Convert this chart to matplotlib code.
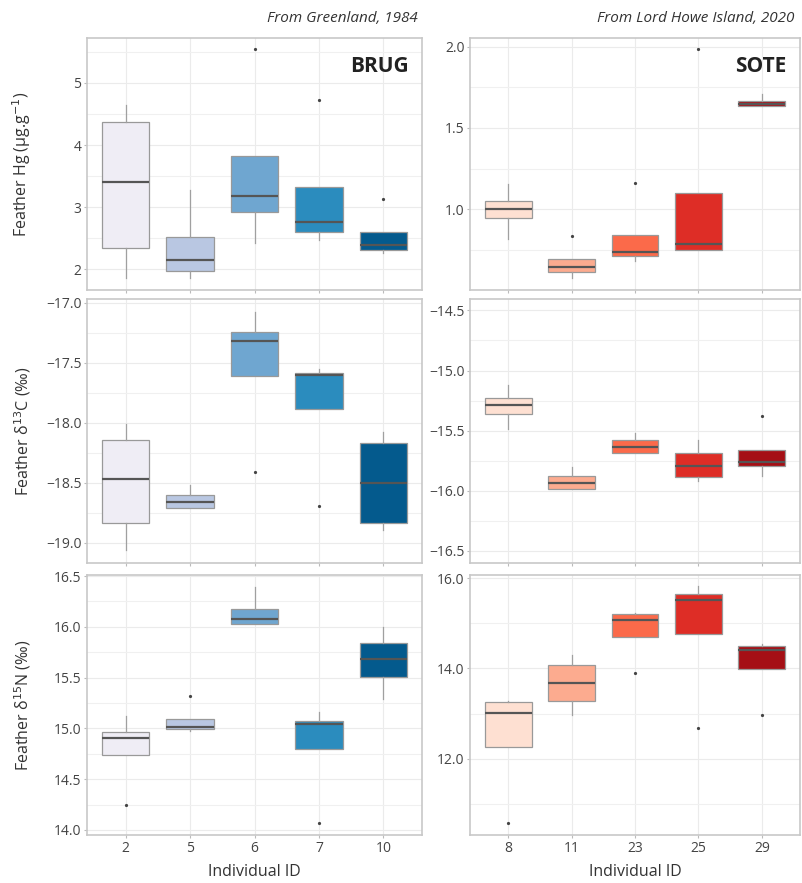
import matplotlib
matplotlib.use("Agg")
import matplotlib.pyplot as plt
from matplotlib.ticker import MultipleLocator

plt.rcParams['font.family'] = ['Open Sans', 'DejaVu Sans']

brug_ids = ["2", "5", "6", "7", "10"]
sote_ids = ["8", "11", "23", "25", "29"]

brug_colors = ["#efedf5", "#b9c7e2", "#6fa6d0", "#2b8cbe", "#045a8d"]
sote_colors = ["#fee0d2", "#fcab8f", "#fb6a4a", "#de2d26", "#a50f15"]

# box stats per individual: low whisker, q1, median, q3, high whisker, outliers
brug_hg_lo = [1.87, 1.87, 2.42, 2.48, 2.27]
brug_hg_q1 = [2.35, 1.97, 2.93, 2.60, 2.31]
brug_hg_med = [3.41, 2.16, 3.18, 2.77, 2.40]
brug_hg_q3 = [4.37, 2.52, 3.83, 3.32, 2.61]
brug_hg_hi = [4.65, 3.27, 3.83, 3.32, 2.61]
brug_hg_out = [[], [], [5.54], [4.72], [3.13]]

sote_hg_lo = [0.816, 0.58, 0.682, 0.752, 1.638]
sote_hg_q1 = [0.948, 0.617, 0.713, 0.752, 1.638]
sote_hg_med = [1.0, 0.644, 0.736, 0.785, 1.648]
sote_hg_q3 = [1.051, 0.695, 0.842, 1.102, 1.666]
sote_hg_hi = [1.156, 0.695, 0.842, 1.102, 1.71]
sote_hg_out = [[], [0.837], [1.162], [1.985], []]

brug_c_lo = [-19.064, -18.712, -17.609, -17.886, -18.898]
brug_c_q1 = [-18.837, -18.712, -17.609, -17.886, -18.834]
brug_c_med = [-18.474, -18.663, -17.324, -17.607, -18.501]
brug_c_q3 = [-18.144, -18.601, -17.244, -17.587, -18.169]
brug_c_hi = [-18.011, -18.518, -17.075, -17.557, -18.081]
brug_c_out = [[], [], [-18.413], [-18.696], []]

sote_c_lo = [-15.486, -15.988, -15.689, -15.918, -15.873]
sote_c_q1 = [-15.36, -15.988, -15.689, -15.884, -15.797]
sote_c_med = [-15.284, -15.937, -15.633, -15.791, -15.757]
sote_c_q3 = [-15.227, -15.875, -15.577, -15.684, -15.664]
sote_c_hi = [-15.12, -15.805, -15.523, -15.577, -15.664]
sote_c_out = [[], [], [], [], [-15.377]]

brug_n_lo = [14.735, 14.974, 16.023, 14.801, 15.291]
brug_n_q1 = [14.735, 14.997, 16.023, 14.801, 15.51]
brug_n_med = [14.902, 15.013, 16.081, 15.046, 15.686]
brug_n_q3 = [14.964, 15.091, 16.176, 15.072, 15.84]
brug_n_hi = [15.121, 15.091, 16.395, 15.157, 16.0]
brug_n_out = [[14.245], [15.314], [], [14.065], []]

sote_n_lo = [12.25, 12.96, 14.70, 14.76, 13.99]
sote_n_q1 = [12.25, 13.27, 14.70, 14.76, 13.99]
sote_n_med = [13.02, 13.67, 15.08, 15.52, 14.41]
sote_n_q3 = [13.25, 14.07, 15.21, 15.65, 14.50]
sote_n_hi = [13.27, 14.29, 15.22, 15.83, 14.53]
sote_n_out = [[10.58], [], [13.89], [12.67], [12.96]]


def make_stats(lo, q1, med, q3, hi, out):
    stats = []
    for i in range(len(lo)):
        stats.append(dict(whislo=lo[i], q1=q1[i], med=med[i], q3=q3[i],
                          whishi=hi[i], fliers=out[i]))
    return stats


W, H = 802, 883
fig = plt.figure(figsize=(W / 100, H / 100), dpi=100)


def px_axes(x0, x1, y0, y1):
    return fig.add_axes([x0 / W, 1 - y1 / H, (x1 - x0) / W, (y1 - y0) / H])


def draw_panel(ax, stats, colors, labels, ylim, major, yfmt, show_x):
    bp = ax.bxp(stats, positions=range(len(stats)), widths=0.74,
                patch_artist=True, showcaps=False,
                boxprops=dict(edgecolor="#999999", linewidth=0.9),
                medianprops=dict(color="#555555", linewidth=1.6),
                whiskerprops=dict(color="#a0a0a0", linewidth=0.9),
                flierprops=dict(marker='o', markersize=1.3, markerfacecolor="#444444",
                                markeredgecolor="#444444"))
    for patch, c in zip(bp['boxes'], colors):
        patch.set_facecolor(c)
    ax.set_xlim(-0.6, 4.6)
    ax.set_ylim(*ylim)
    ax.yaxis.set_major_locator(MultipleLocator(major))
    ax.yaxis.set_minor_locator(MultipleLocator(major / 2))
    ax.yaxis.set_major_formatter(yfmt)
    ax.grid(True, which='major', color="#ebebeb", linewidth=0.8)
    ax.grid(True, which='minor', axis='y', color="#f0f0f0", linewidth=0.8)
    ax.set_axisbelow(True)
    for s in ax.spines.values():
        s.set_color("#c8c8c8")
        s.set_linewidth(1.2)
    ax.tick_params(which='both', length=2, color="#bbbbbb", labelsize=10,
                   labelcolor="#444444", pad=2)
    ax.tick_params(which='minor', length=0)
    ax.set_xticks(range(len(labels)))
    if show_x:
        ax.set_xticklabels(labels)
        ax.set_xlabel("Individual ID", fontsize=11.5, color="#333333", labelpad=6)
    else:
        ax.set_xticklabels([])


rows = [(38, 290), (299, 563), (575, 835)]
lx0, lx1 = 87, 422
rx0, rx1 = 470, 800

ax1 = px_axes(lx0, lx1, *rows[0])
draw_panel(ax1, make_stats(brug_hg_lo, brug_hg_q1, brug_hg_med, brug_hg_q3, brug_hg_hi, brug_hg_out),
           brug_colors, brug_ids, (1.67, 5.72), 1, "{x:.0f}", False)
ax1.set_ylabel(r"Feather Hg (µg.g$^{-1}$)", fontsize=11.5, color="#333333")

ax2 = px_axes(rx0, rx1, *rows[0])
draw_panel(ax2, make_stats(sote_hg_lo, sote_hg_q1, sote_hg_med, sote_hg_q3, sote_hg_hi, sote_hg_out),
           sote_colors, sote_ids, (0.504, 2.053), 0.5, "{x:.1f}", False)

ax3 = px_axes(lx0, lx1, *rows[1])
draw_panel(ax3, make_stats(brug_c_lo, brug_c_q1, brug_c_med, brug_c_q3, brug_c_hi, brug_c_out),
           brug_colors, brug_ids, (-19.17, -16.97), 0.5, "{x:.1f}", False)
ax3.set_ylabel(r"Feather δ$^{13}$C (‰)", fontsize=11.5, color="#333333")

ax4 = px_axes(rx0, rx1, *rows[1])
draw_panel(ax4, make_stats(sote_c_lo, sote_c_q1, sote_c_med, sote_c_q3, sote_c_hi, sote_c_out),
           sote_colors, sote_ids, (-16.6, -14.405), 0.5, "{x:.1f}", False)

ax5 = px_axes(lx0, lx1, *rows[2])
draw_panel(ax5, make_stats(brug_n_lo, brug_n_q1, brug_n_med, brug_n_q3, brug_n_hi, brug_n_out),
           brug_colors, brug_ids, (13.95, 16.51), 0.5, "{x:.1f}", True)
ax5.set_ylabel(r"Feather δ$^{15}$N (‰)", fontsize=11.5, color="#333333")

ax6 = px_axes(rx0, rx1, *rows[2])
draw_panel(ax6, make_stats(sote_n_lo, sote_n_q1, sote_n_med, sote_n_q3, sote_n_hi, sote_n_out),
           sote_colors, sote_ids, (10.31, 16.067), 2, "{x:.1f}", True)

for ax in (ax1, ax3, ax5):
    ax.yaxis.set_label_coords(-0.16, 0.5)

ax1.text(0.96, 0.93, "BRUG", transform=ax1.transAxes, ha='right', va='top',
         fontsize=15, fontweight='bold', color="#222222")
ax2.text(0.96, 0.93, "SOTE", transform=ax2.transAxes, ha='right', va='top',
         fontsize=15, fontweight='bold', color="#222222")

fig.text(418 / W, 1 - 19 / H, "From Greenland, 1984", ha='right', va='center',
         fontsize=11, style='italic', color="#333333")
fig.text(794 / W, 1 - 19 / H, "From Lord Howe Island, 2020", ha='right', va='center',
         fontsize=11, style='italic', color="#333333")

fig.savefig("out.png", dpi=100)
